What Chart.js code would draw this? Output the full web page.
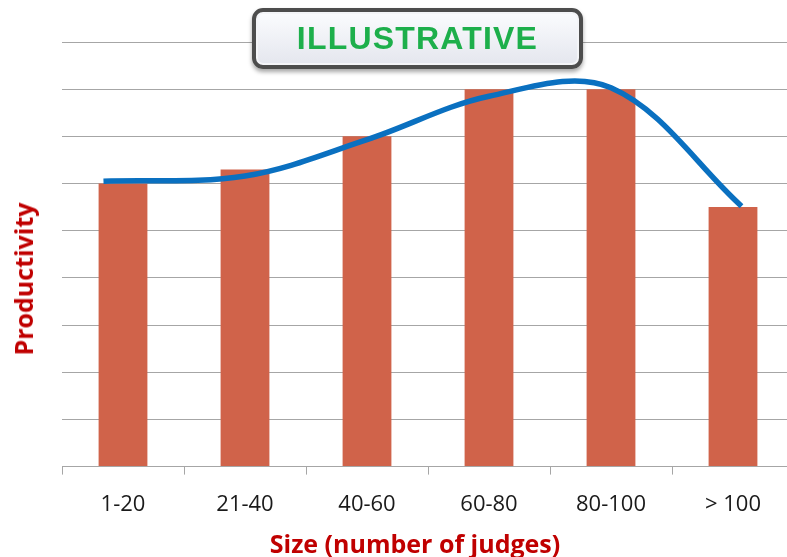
<!DOCTYPE html>
<html>
<head>
<meta charset="utf-8">
<script src="https://cdn.jsdelivr.net/npm/chart.js@4.4.1/dist/chart.umd.min.js"></script>
<style>
  html, body { margin: 0; padding: 0; background: #fff; overflow: hidden; }
  #wrap { position: relative; width: 800px; height: 557px; }
  #chart { position: absolute; left: 0; top: 0; }
  .badge {
    position: absolute; left: 252px; top: 8px; width: 323px; height: 53px;
    border: 4px solid #4d4d4d; border-radius: 11px;
    background: linear-gradient(#fbfcfe, #e4e6ee);
    box-shadow: 0 3px 4px rgba(0,0,0,0.35), inset 0 0 0 2px #f4f5f8;
    font: bold 32px "Liberation Sans", Arial, sans-serif; letter-spacing: 1.2px;
    color: #1daf4b; text-align: center; line-height: 53px;
  }
  .ytitle {
    position: absolute; left: 23px; top: 279px;
    transform: translate(-50%, -50%) rotate(-90deg);
    font: bold 25px "Open Sans", sans-serif; color: #c00000; white-space: nowrap;
  }
  .xtitle {
    position: absolute; left: 415px; top: 543px;
    transform: translate(-50%, -50%);
    font: bold 25px "Open Sans", sans-serif; color: #c00000; white-space: nowrap;
  }
</style>
</head>
<body>
<div id="wrap">
  <canvas id="chart" width="800" height="557"></canvas>
  <div class="badge">ILLUSTRATIVE</div>
  <div class="ytitle">Productivity</div>
  <div class="xtitle">Size (number of judges)</div>
</div>
<script>
// categorías y valores
const sizes = ['1-20', '21-40', '40-60', '60-80', '80-100', '> 100'];
const productivity = [6, 6.3, 7, 8, 8, 5.5];

// curva de tendencia (posición en categorías, valor)
const trendX = [-0.16, 1, 2, 3, 4, 5.07];
const trendY = [6.05, 6.16, 6.93, 7.85, 8.03, 5.52];

const yTicks = [0, 1, 2, 3, 4, 5, 6, 7, 8, 9];

const ctx = document.getElementById('chart').getContext('2d');
const chart = new Chart(ctx, {
  data: {
    labels: sizes,
    datasets: [{
      type: 'line',
      label: 'Trend',
      data: trendX.map((x, i) => ({ x: x, y: trendY[i] })),
      xAxisID: 'x2',
      borderColor: '#0a70c0',
      borderWidth: 5.5,
      pointRadius: 0,
      tension: 0.35,
      fill: false,
      order: 0
    }, {
      type: 'bar',
      label: 'Productivity',
      data: productivity,
      backgroundColor: '#d0634a',
      grouped: false,
      categoryPercentage: 1,
      barPercentage: 0.4,
      order: 1
    }]
  },
  options: {
    responsive: false,
    animation: false,
    layout: { padding: { left: 62, top: 42, right: 6, bottom: 22 } },
    plugins: { legend: { display: false }, tooltip: { enabled: false } },
    scales: {
      x: {
        type: 'category',
        offset: true,
        grid: { drawOnChartArea: false, tickLength: 8, color: '#a6a6a6', offset: true },
        border: { color: '#a6a6a6' },
        ticks: { color: '#1a1a1a', padding: 17, font: { family: 'Open Sans', size: 22 } }
      },
      x2: {
        type: 'linear',
        display: false,
        min: -0.5,
        max: 5.5
      },
      y: {
        min: yTicks[0],
        max: yTicks[yTicks.length - 1],
        afterBuildTicks: axis => { axis.ticks = yTicks.map(v => ({ value: v })); },
        grid: { color: '#a6a6a6', drawTicks: false },
        border: { display: false },
        ticks: { display: false }
      }
    }
  }
});
</script>
</body>
</html>
